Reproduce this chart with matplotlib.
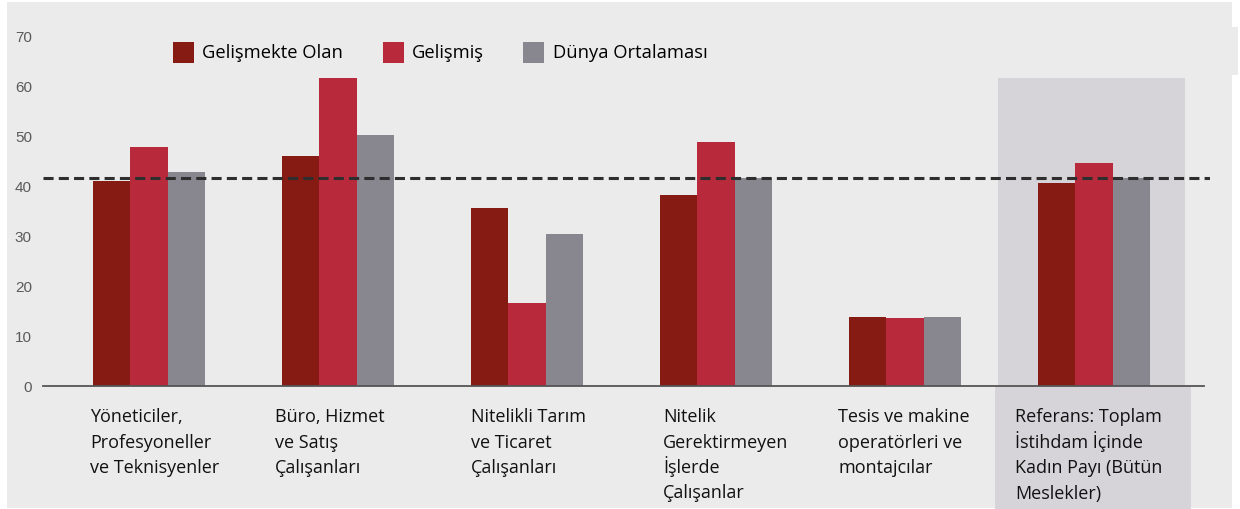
import matplotlib.pyplot as plt
from matplotlib.patches import Rectangle
import numpy as np

categories = [
    "Yöneticiler,\nProfesyoneller\nve Teknisyenler",
    "Büro, Hizmet\nve Satış\nÇalışanları",
    "Nitelikli Tarım\nve Ticaret\nÇalışanları",
    "Nitelik\nGerektirmeyen\nİşlerde\nÇalışanlar",
    "Tesis ve makine\noperatörleri ve\nmontajcılar",
    "Referans: Toplam\nİstihdam İçinde\nKadın Payı (Bütün\nMeslekler)",
]
series_names = ["Gelişmekte Olan", "Gelişmiş", "Dünya Ortalaması"]
gelismekte = [41.1, 46.1, 35.7, 38.3, 13.8, 40.7]
gelismis = [47.9, 61.7, 16.6, 48.9, 13.6, 44.7]
dunya = [42.9, 50.3, 30.5, 41.7, 13.8, 41.7]
reference_line = 41.7
yticks = [0, 10, 20, 30, 40, 50, 60, 70]

colors = ["#861B14", "#B82A3B", "#888790"]
bg = "#EBEBEB"
W, H = 1240, 509

fig = plt.figure(figsize=(12.4, 5.09), dpi=100)
fig.patch.set_facecolor("white")

# gray panel behind everything
fig.add_artist(Rectangle((7 / W, 1 - 508 / H), (1232 - 7) / W, (508 - 2) / H,
                         transform=fig.transFigure, facecolor=bg, edgecolor="none", zorder=-10))
fig.add_artist(Rectangle((1232 / W, 1 - 75 / H), 6 / W, 48 / H,
                         transform=fig.transFigure, facecolor=bg, edgecolor="none", zorder=-10))

ax = fig.add_axes([43 / W, 1 - 386 / H, (1210 - 43) / W, (386 - 37) / H])
ax.set_facecolor("none")

x = np.arange(len(categories))
w = 0.198
ax.set_xlim(-0.561, 5.614)
ax.set_ylim(0, 70)

# highlight for the reference group
hl_left = 4.492
ax.add_patch(Rectangle((hl_left, 0), 5.481 - hl_left, max(gelismis), facecolor="#D6D4D9",
                       edgecolor="none", zorder=0))
ax.add_patch(Rectangle((4.476, -24.8), 5.513 - 4.476, 24.8, facecolor="#D6D4D9",
                       edgecolor="none", zorder=0, clip_on=False))

for i, (vals, name) in enumerate(zip([gelismekte, gelismis, dunya], series_names)):
    ax.bar(x + (i - 1) * w, vals, width=w, color=colors[i], label=name, zorder=2)

ax.axhline(reference_line, color="#2e2e2e", lw=2.2, ls=(0, (3.3, 1.7)), zorder=3)

for s in ["top", "right", "left"]:
    ax.spines[s].set_visible(False)
ax.spines["bottom"].set_color("#555555")
ax.spines["bottom"].set_linewidth(1.3)
ax.spines["bottom"].set_bounds(-0.561, 5.58)

ax.set_yticks(yticks)
ax.tick_params(axis="y", length=0, labelcolor="#5a5a5a", labelsize=11, pad=8)
for lbl in ax.get_yticklabels():
    lbl.set_family("Liberation Sans")
ax.set_xticks([])

# category labels, one line at a time so the pitch stays even
label_x = [90, 275, 471, 663, 838, 1015]
for lx, cat in zip(label_x, categories):
    for k, line in enumerate(cat.split("\n")):
        fig.text(lx / W, 1 - (422 + 25.5 * k) / H, line, ha="left", va="baseline",
                 fontsize=13, family="Open Sans", color="#111111")

leg = ax.legend(loc="upper left", bbox_to_anchor=(130 / 1167, 1.0 - 5 / 349), ncol=3, frameon=False,
                prop={"family": "Open Sans", "size": 13.2}, handlelength=1.15, handleheight=1.35,
                handletextpad=0.45, columnspacing=2.15, borderpad=0, borderaxespad=0)

fig.savefig("out.png", dpi=100, facecolor=fig.get_facecolor())
